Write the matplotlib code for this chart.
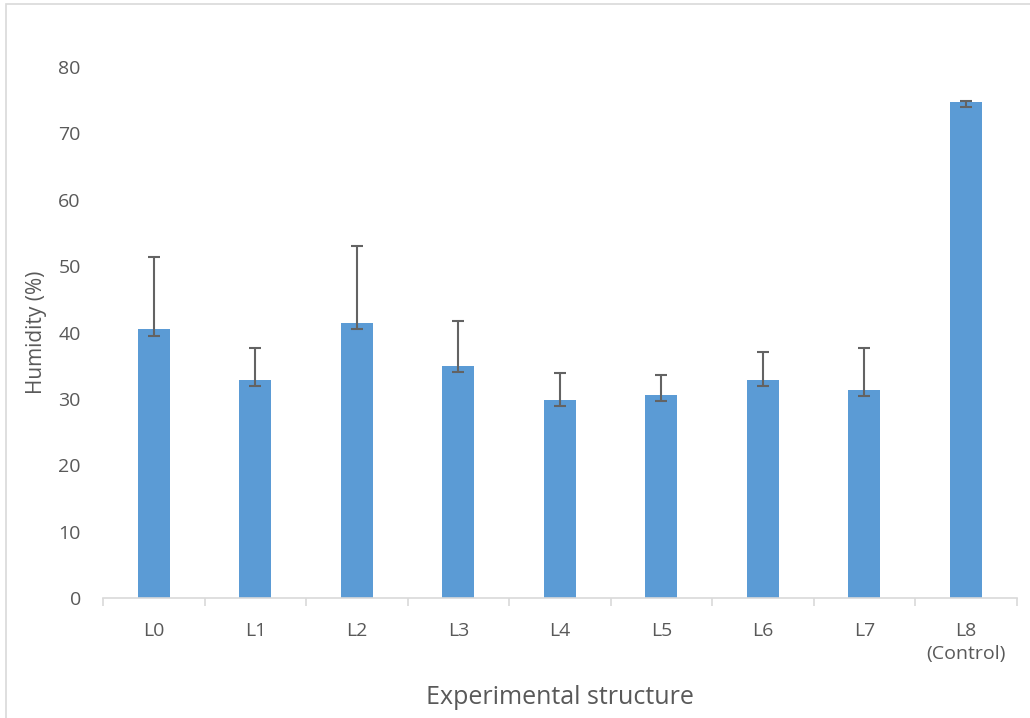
import matplotlib
matplotlib.use('Agg')
import matplotlib.pyplot as plt
from matplotlib.patches import Rectangle

plt.rcParams['font.family'] = ['Open Sans', 'DejaVu Sans']

# data
labels = ['L0', 'L1', 'L2', 'L3', 'L4', 'L5', 'L6', 'L7', 'L8\n(Control)']
humidity = [40.5, 32.9, 41.5, 35.0, 29.9, 30.6, 32.8, 31.4, 74.8]
err_low = [1.0, 0.9, 1.0, 1.0, 0.9, 0.9, 0.9, 1.0, 0.9]
err_high = [10.8, 4.8, 11.6, 6.8, 4.0, 3.0, 4.3, 6.2, 0.1]
yticks = [0, 10, 20, 30, 40, 50, 60, 70, 80]

text_col = '#595959'
axis_col = '#D9D9D9'

fig = plt.figure(figsize=(10.3, 7.18), dpi=100)
ax = fig.add_axes([0.1, 0.1671, 0.887, 0.7396])

# outer chart border (partly cropped in the reference)
fig.patches.append(Rectangle((6 / 1030, -0.01), 1.02, 1 - 4 / 718 + 0.01,
                             transform=fig.transFigure, fill=False,
                             edgecolor=axis_col, linewidth=1.2))

x = list(range(len(labels)))
ax.bar(x, humidity, width=0.315, color='#5B9BD5', zorder=2)
ax.errorbar(x, humidity, yerr=[err_low, err_high], fmt='none',
            ecolor='#636363', elinewidth=1.5, capsize=4.5, capthick=1.5, zorder=3)

ax.set_xlim(-0.5, len(labels) - 0.5)
ax.set_ylim(0, 80)
ax.set_yticks(yticks)

for s in ['top', 'right', 'left']:
    ax.spines[s].set_visible(False)
ax.spines['bottom'].set_color(axis_col)
ax.spines['bottom'].set_linewidth(1.2)

ax.set_xticks(x)
ax.set_xticklabels(labels, fontsize=14, color=text_col, linespacing=1.35)
ax.set_xticks([i - 0.5 for i in range(len(labels) + 1)], minor=True)
ax.tick_params(axis='x', which='major', length=0, pad=17)
ax.tick_params(axis='x', which='minor', length=6, color=axis_col, width=1.2)
ax.tick_params(axis='y', length=0, pad=16, labelsize=14, labelcolor=text_col)

ax.set_ylabel('Humidity (%)', fontsize=15, color=text_col, labelpad=8)
ax.set_xlabel('Experimental structure', fontsize=18, color=text_col, labelpad=16)

fig.savefig('out.png', dpi=100)
